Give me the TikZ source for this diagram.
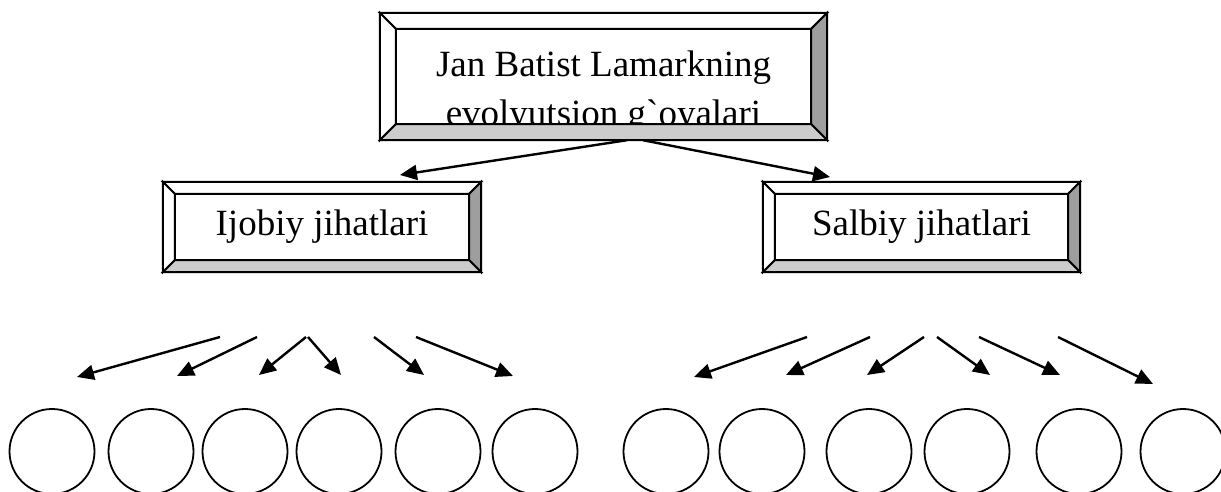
\documentclass[tikz,border=0pt]{standalone}
\usepackage{fontspec}
\usepackage{tikz}
\usetikzlibrary{positioning, calc, arrows.meta}
\newfontfamily\tnr{Liberation Serif}
\definecolor{bevelright}{gray}{0.62}
\definecolor{bevelbottom}{gray}{0.80}
\tikzset{
  bbox/.style={rectangle, inner sep=0pt, font=\tnr\fontsize{37}{49}\selectfont},
  bevel/.style={line width=1.8pt, line join=miter},
  arr/.style={line width=2.4pt, -{Triangle[length=17pt,width=15pt]}},
  leaf/.style={circle, draw, line width=1.8pt, minimum size=85pt, inner sep=0pt}
}
\newcommand\bevelframe[2]{%
  \path (#1.north west) coordinate (bfa) (#1.north east) coordinate (bfb)
        (#1.south east) coordinate (bfc) (#1.south west) coordinate (bfd);
  \path ($(bfa)+(#2,#2)$) coordinate (bfA) ($(bfb)+(-#2,#2)$) coordinate (bfB)
        ($(bfc)+(-#2,-#2)$) coordinate (bfC) ($(bfd)+(#2,-#2)$) coordinate (bfD);
  \filldraw[bevel, fill=white] (bfa) -- (bfb) -- (bfB) -- (bfA) -- cycle;
  \filldraw[bevel, fill=white] (bfa) -- (bfA) -- (bfD) -- (bfd) -- cycle;
  \filldraw[bevel, fill=bevelright] (bfb) -- (bfc) -- (bfC) -- (bfB) -- cycle;
  \filldraw[bevel, fill=bevelbottom] (bfd) -- (bfD) -- (bfC) -- (bfc) -- cycle;
  \draw[bevel] (bfA) rectangle (bfC);
  \draw[bevel] (bfa) rectangle (bfc);
}
\begin{document}
\begin{tikzpicture}[x=1pt, y=-1pt]
  \useasboundingbox[fill=white] (0,0) rectangle (1221,492);

  \node[bbox, minimum width=447pt, minimum height=127pt, align=center,
        text height=99pt, text depth=0pt] (lamark) at (603.5,76.5)
        {Jan Batist Lamarkning\\evolyutsion g`oyalari};
  \bevelframe{lamark}{16}

  \node[bbox, minimum width=318pt, minimum height=90pt] (ijobiy) at (322,227) {Ijobiy jihatlari};
  \bevelframe{ijobiy}{12}
  \node[bbox, minimum width=317pt, minimum height=90pt] (salbiy) at (921.5,227) {Salbiy jihatlari};
  \bevelframe{salbiy}{12}

  \coordinate (ijobiyin) at (400,175);
  \coordinate (salbiyin) at (830,177);
  \draw[arr] ([xshift=23.5pt]lamark.south) -- (ijobiyin);
  \draw[arr] ([xshift=39.5pt]lamark.south) -- (salbiyin);

  \foreach \n/\sx/\ex/\ey in {1/220/77/377, 2/257/177/376, 3/306/259/375,
      4/308/341/375, 5/374/424/375, 6/416/513/376, 7/807/694/377,
      8/870/786/375, 9/924/867/375, 10/937/990/375, 11/979/1060/375,
      12/1058/1153/384}{
    \coordinate (from\n) at (\sx,337);
    \coordinate (to\n) at (\ex,\ey);
    \draw[arr] (from\n) -- (to\n);
  }

  \foreach \n/\cx in {1/52, 2/151, 3/245, 4/339, 5/438, 6/535,
      7/666, 8/762, 9/869, 10/967, 11/1079, 12/1183}
    \node[leaf] (leaf\n) at (\cx,451.5) {};
\end{tikzpicture}
\end{document}
